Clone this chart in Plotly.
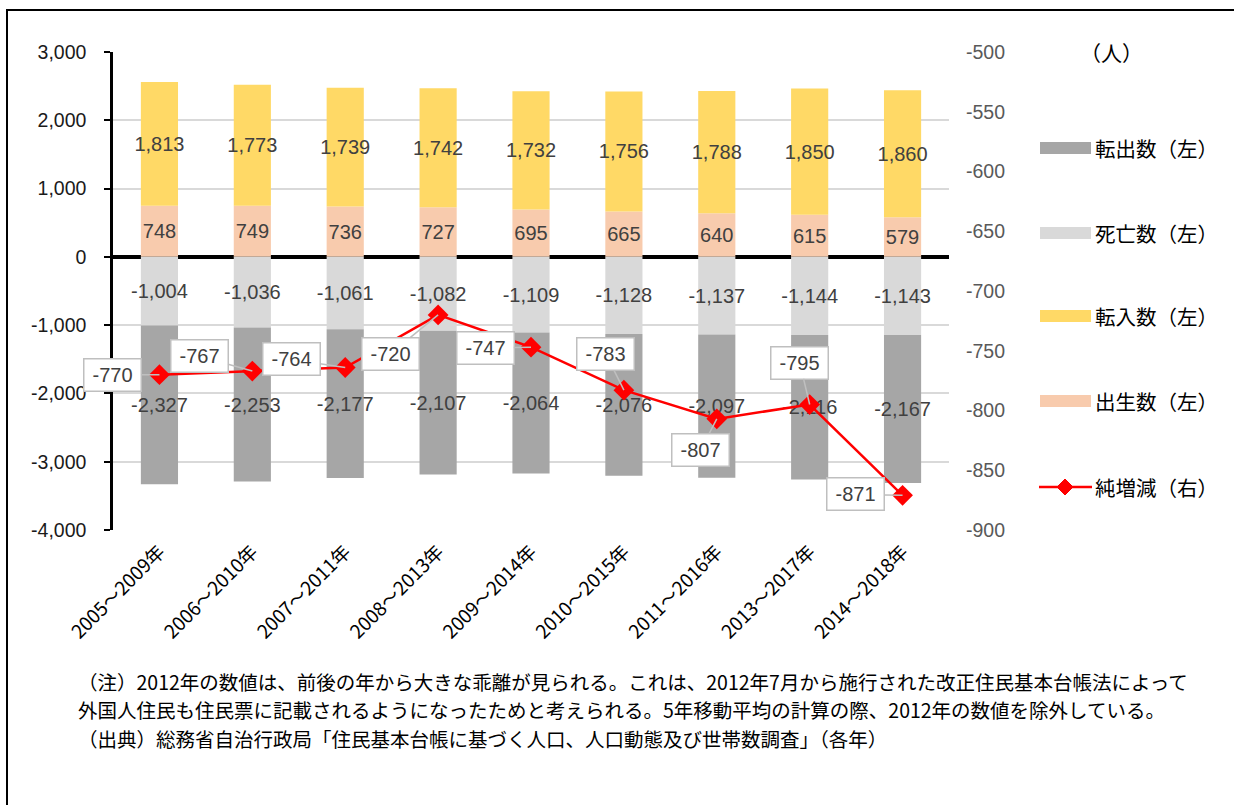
import plotly.graph_objects as go

# 5-year moving averages of population movement (persons)
periods = ["2005～2009年", "2006～2010年", "2007～2011年", "2008～2013年", "2009～2014年",
           "2010～2015年", "2011～2016年", "2013～2017年", "2014～2018年"]
births = [748, 749, 736, 727, 695, 665, 640, 615, 579]
moves_in = [1813, 1773, 1739, 1742, 1732, 1756, 1788, 1850, 1860]
deaths = [-1004, -1036, -1061, -1082, -1109, -1128, -1137, -1144, -1143]
moves_out = [-2327, -2253, -2177, -2107, -2064, -2076, -2097, -2116, -2167]
net_change = [-770, -767, -764, -720, -747, -783, -807, -795, -871]

left_ticks = [3000, 2000, 1000, 0, -1000, -2000, -3000, -4000]
right_ticks = [-500, -550, -600, -650, -700, -750, -800, -850, -900]

note_lines = [
    "（注）2012年の数値は、前後の年から大きな乖離が見られる。これは、2012年7月から施行された改正住民基本台帳法によって",
    "外国人住民も住民票に記載されるようになったためと考えられる。5年移動平均の計算の際、2012年の数値を除外している。",
    "（出典）総務省自治行政局「住民基本台帳に基づく人口、人口動態及び世帯数調査」（各年）",
]

# pixel offsets of the value callouts relative to each line point
callout_dx = [-47, -53, -54, -48, -46, -18, -16, -10, -47]
callout_dy = [0, -15, -8, 39, 1, -36, 31, -42, -1]

W_FIG, H_FIG = 1234, 805
L, R, T, B = 113, 949, 52, 530
PW, PH = R - L, B - T


def px_x(px):
    return (px - L) / PW


def px_y(py):
    return (B - py) / PH


def fmt(v):
    return f"{v:,}"


NUM_FONT = "Liberation Sans, Arial, sans-serif"
JP_FONT = "Noto Sans CJK JP, sans-serif"
LABEL_FONT = dict(family=NUM_FONT, size=20, color="#404040")

colors = {
    "out": "#A6A6A6",
    "death": "#D9D9D9",
    "in": "#FFD966",
    "birth": "#F8CBAD",
    "net": "#FF0000",
}

fig = go.Figure()


def add_bar(values, name, color):
    fig.add_trace(go.Bar(
        x=periods, y=values, name=name, marker=dict(color=color, line=dict(width=0)),
        text=[fmt(v) for v in values], textposition="inside", insidetextanchor="middle",
        textangle=0, constraintext="none", textfont=LABEL_FONT, showlegend=False,
        cliponaxis=False,
    ))


add_bar(births, "出生数（左）", colors["birth"])
add_bar(deaths, "死亡数（左）", colors["death"])
add_bar(moves_in, "転入数（左）", colors["in"])
add_bar(moves_out, "転出数（左）", colors["out"])

fig.add_trace(go.Scatter(
    x=periods, y=net_change, yaxis="y2", name="純増減（右）", mode="lines+markers",
    line=dict(color=colors["net"], width=2.5),
    marker=dict(symbol="diamond", size=16, color=colors["net"]),
    showlegend=False, cliponaxis=False,
))

annotations = []
for i, v in enumerate(net_change):
    annotations.append(dict(
        x=periods[i], y=v, xref="x", yref="y2", text=fmt(v),
        showarrow=True, arrowhead=0, arrowwidth=1.5, arrowcolor="#BFBFBF",
        ax=callout_dx[i], ay=callout_dy[i], standoff=0,
        bgcolor="white", bordercolor="#BFBFBF", borderwidth=1.5, borderpad=4,
        width=48, height=23, font=LABEL_FONT,
    ))

# legend drawn on the right
legend_items = [
    ("転出数（左）", colors["out"], 148, "bar"),
    ("死亡数（左）", colors["death"], 233, "bar"),
    ("転入数（左）", colors["in"], 316, "bar"),
    ("出生数（左）", colors["birth"], 401, "bar"),
    ("純増減（右）", colors["net"], 487, "line"),
]
shapes = []
for label, color, py, kind in legend_items:
    if kind == "bar":
        shapes.append(dict(type="rect", xref="paper", yref="paper",
                           x0=px_x(1040), x1=px_x(1091), y0=px_y(py + 6), y1=px_y(py - 6),
                           fillcolor=color, line=dict(width=0)))
    else:
        shapes.append(dict(type="line", xref="paper", yref="paper",
                           x0=px_x(1039), x1=px_x(1092), y0=px_y(py), y1=px_y(py),
                           line=dict(color=color, width=2.5)))
        shapes.append(dict(type="path", xref="paper", yref="paper",
                           xsizemode="pixel", ysizemode="pixel",
                           xanchor=px_x(1065), yanchor=px_y(py),
                           path="M0,8 L8,0 L0,-8 L-8,0 Z",
                           fillcolor=color, line=dict(color=color, width=1)))
    annotations.append(dict(
        x=px_x(1093), y=px_y(py), xref="paper", yref="paper", text=label,
        showarrow=False, xanchor="left", yanchor="middle",
        font=dict(family=JP_FONT, size=20.5, color="#000000"),
    ))

annotations.append(dict(
    x=px_x(1111), y=px_y(52), xref="paper", yref="paper", text="（人）",
    showarrow=False, xanchor="center", yanchor="middle",
    font=dict(family=JP_FONT, size=21, color="#000000"),
))

# footnotes, one annotation per line
for line, py in zip(note_lines, [681, 709.5, 738]):
    annotations.append(dict(
        x=px_x(76), y=px_y(py), xref="paper", yref="paper", text=line,
        showarrow=False, xanchor="left", yanchor="middle", align="left",
        font=dict(family=JP_FONT, size=19.5, color="#000000"),
    ))

# outer frame
shapes.append(dict(type="rect", xref="paper", yref="paper",
                   x0=px_x(7), x1=px_x(1250), y0=px_y(820), y1=px_y(10),
                   line=dict(color="#000000", width=2), fillcolor="rgba(0,0,0,0)",
                   layer="above"))

fig.update_layout(
    width=W_FIG, height=H_FIG,
    margin=dict(l=L, r=W_FIG - R, t=T, b=H_FIG - B, autoexpand=False),
    template="none",
    paper_bgcolor="white", plot_bgcolor="white",
    barmode="relative", bargap=0.6,
    showlegend=False,
    xaxis=dict(
        type="category", range=[-0.5, len(periods) - 0.5], autorange=False,
        showgrid=False, showline=False, zeroline=False, ticks="",
        tickangle=-45, tickfont=dict(family=JP_FONT, size=19, color="#000000"),
        ticklabelstandoff=6,
    ),
    yaxis=dict(
        range=[-4000, 3000], tickvals=left_ticks, ticktext=[fmt(v) for v in left_ticks],
        showgrid=True, gridcolor="#D9D9D9", gridwidth=1.5,
        showline=True, linecolor="#000000", linewidth=2.5,
        ticks="outside", ticklen=6, tickwidth=2, tickcolor="#000000",
        zeroline=True, zerolinecolor="#000000", zerolinewidth=3.5,
        tickfont=dict(family=NUM_FONT, size=19.5, color="#1A1A1A"),
        ticklabelstandoff=14,
    ),
    yaxis2=dict(
        overlaying="y", side="right", range=[-900, -500],
        tickvals=right_ticks, ticktext=[fmt(v) for v in right_ticks],
        showgrid=False, showline=False, zeroline=False, ticks="",
        tickfont=dict(family=NUM_FONT, size=19.5, color="#595959"),
        ticklabelstandoff=16,
    ),
    annotations=annotations,
    shapes=shapes,
)

fig.write_html("out.html")
